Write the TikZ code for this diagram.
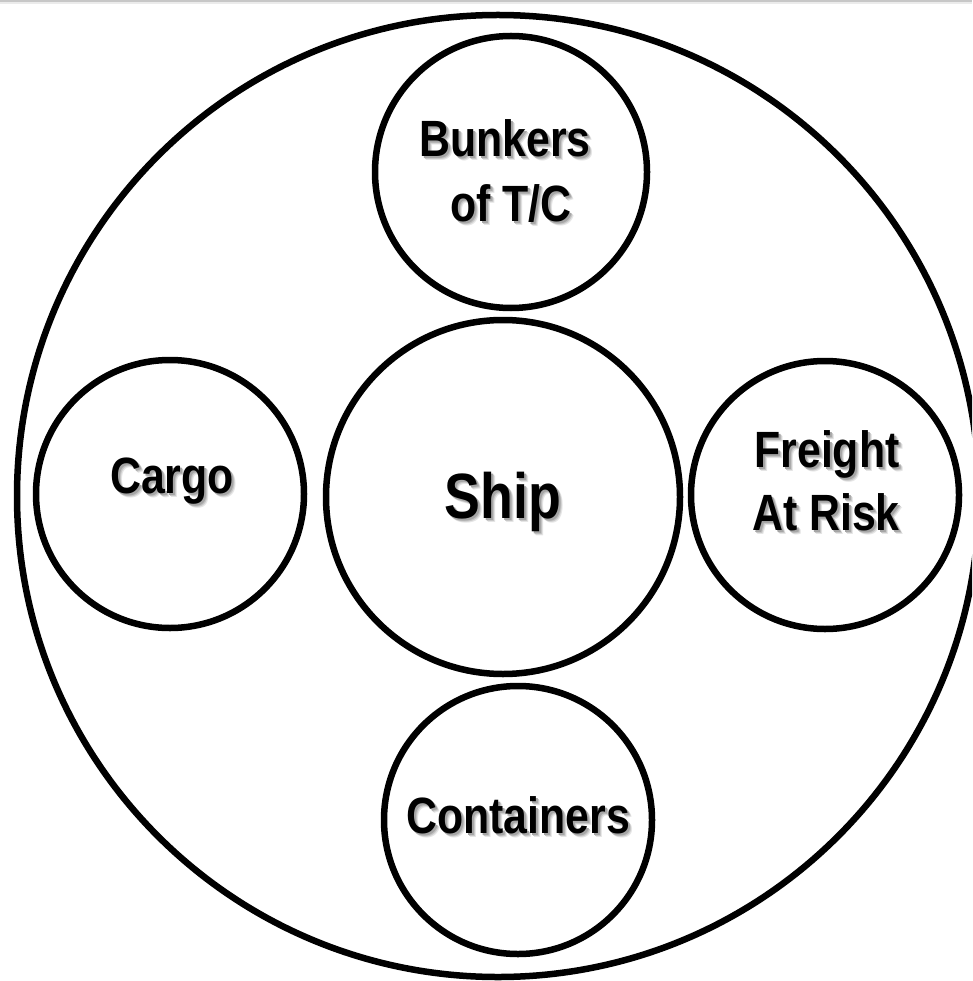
\documentclass[tikz,border=0pt]{standalone}
\usepackage{fontspec}
\setmainfont{Liberation Sans}[FakeStretch=0.84]

\tikzset{
  ring/.style={draw, circle, line width=6.5pt, inner sep=0pt, minimum size=#1},
  lbl/.style={font=\bfseries\fontsize{51}{64}\selectfont, anchor=base, inner sep=0pt},
  biglbl/.style={font=\bfseries\fontsize{64}{76}\selectfont, anchor=base, inner sep=0pt},
}

% word set over a soft grey drop shadow
\newcommand\shadowed[1]{\leavevmode
  \rlap{\hspace{4pt}\raisebox{-4pt}{\color{black!10}#1}}%
  \rlap{\hspace{3pt}\raisebox{-3pt}{\color{black!22}#1}}%
  \rlap{\hspace{2pt}\raisebox{-2pt}{\color{black!35}#1}}%
  #1}

\begin{document}
\begin{tikzpicture}[x=1pt, y=-1pt]
  \useasboundingbox (0,0) rectangle (972,981);
  \clip (0,0) rectangle (972,981);
  \fill[white] (0,0) rectangle (972,981);
  % thin shaded edge along the top
  \fill[black!22] (0,0) rectangle (972,2);
  \fill[black!8] (0,2) rectangle (972,4);

  % circles
  \node[ring=962pt] (outer) at (498,496) {};
  \node[ring=354pt] (ship) at (503,497) {};
  \node[ring=272pt] (bunkers) at (511,172) {};
  \node[ring=268pt] (cargo) at (170,494) {};
  \node[ring=268pt] (freight) at (825,495) {};
  \node[ring=268pt] (containers) at (518,820) {};

  % labels
  \node[biglbl] (shiptxt) at (503,518) {\shadowed{Ship}};
  \node[lbl] (bunkers1) at (505,157) {\shadowed{Bunkers}};
  \node[lbl] (bunkers2) at (511,222) {\shadowed{of T/C}};
  \node[lbl] (cargotxt) at (172,493) {\shadowed{Cargo}};
  \node[lbl] (freight1) at (827,467) {\shadowed{Freight}};
  \node[lbl] (freight2) at (826,530) {\shadowed{At Risk}};
  \node[lbl] (containerstxt) at (518,833) {\shadowed{Containers}};
\end{tikzpicture}
\end{document}
